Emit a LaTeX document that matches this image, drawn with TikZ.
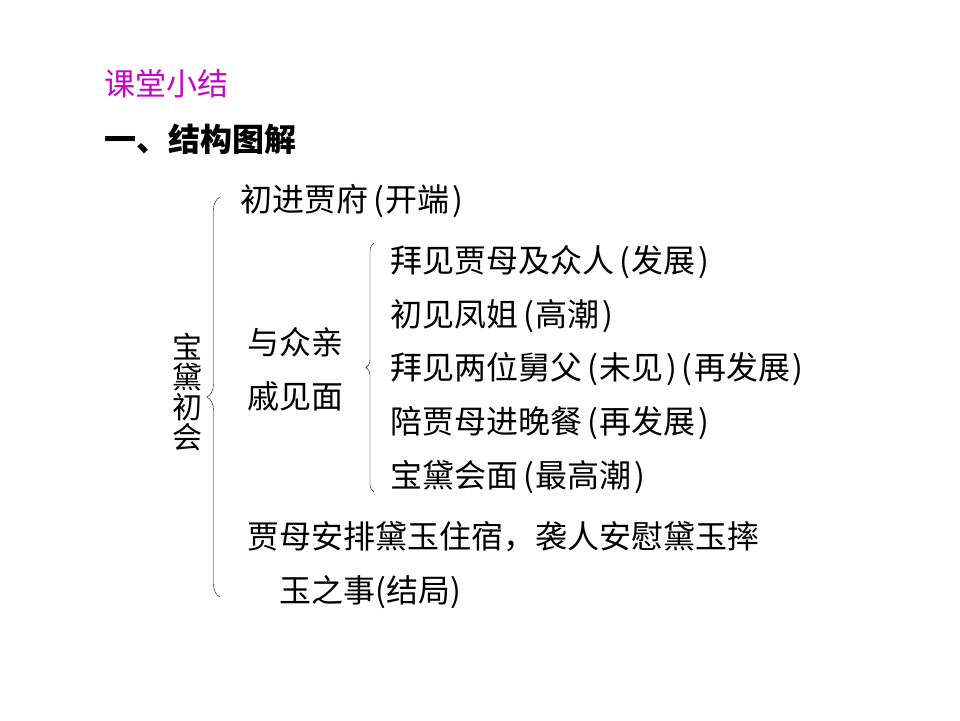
\documentclass[tikz,border=0pt]{standalone}
\usepackage{fontspec}
\usepackage{xcolor}
\setmainfont{Noto Sans CJK SC}
\usetikzlibrary{decorations.pathreplacing}
\definecolor{titlemagenta}{RGB}{204,0,204}
\newcommand{\lpar}{\kern5pt(\kern2pt}
\newcommand{\rpar}{\kern2pt)}

\tikzset{
	txt/.style={anchor=west,inner sep=0pt,font=\fontsize{32}{32}\selectfont},
	brc/.style={thin,decorate,decoration={brace,amplitude=#1}}
}

\begin{document}
\begin{tikzpicture}[x=1pt,y=-1pt]
	\useasboundingbox (0,0) rectangle (960,720);
	
	% headings
	\node[txt,text=titlemagenta,font=\fontsize{31}{31}\selectfont] (summary) at (104,84) {课堂小结};
	\node[txt,font=\fontsize{32}{32}\selectfont\bfseries] (heading) at (104,139) {一、结构图解};
	
	% root of the outline
	\node[inner sep=0pt,align=center,font=\fontsize{30}{30}\selectfont] (root) at (187,392) {宝\\黛\\初\\会};
	
	% first level
	\node[txt] (begin) at (240,201) {初进贾府\lpar 开端\rpar};
	\node[txt,align=left,font=\fontsize{32}{54}\selectfont] (meet) at (247,369) {与众亲\\戚见面};
	\node[txt,align=left,font=\fontsize{32}{54}\selectfont] (ending) at (247,565) {贾母安排黛玉住宿，袭人安慰黛玉摔\\\hspace*{32pt}玉之事(结局)};
	
	% second level
	\foreach \txt [count=\i] in {拜见贾母及众人\lpar 发展\rpar,初见凤姐\lpar 高潮\rpar,拜见两位舅父\lpar 未见\rpar\lpar 再发展\rpar,陪贾母进晚餐\lpar 再发展\rpar,宝黛会面\lpar 最高潮\rpar}
		\node[txt] (item\i) at (390,{262+53.75*(\i-1)}) {\txt};
	
	% braces
	\coordinate (outerbot) at (220,597);
	\coordinate (outertop) at (220,197);
	\coordinate (innerbot) at (374,492);
	\coordinate (innertop) at (374,243);
	\draw[brc=13pt] (outerbot) -- (outertop);
	\draw[brc=8pt] (innerbot) -- (innertop);
\end{tikzpicture}
\end{document}
